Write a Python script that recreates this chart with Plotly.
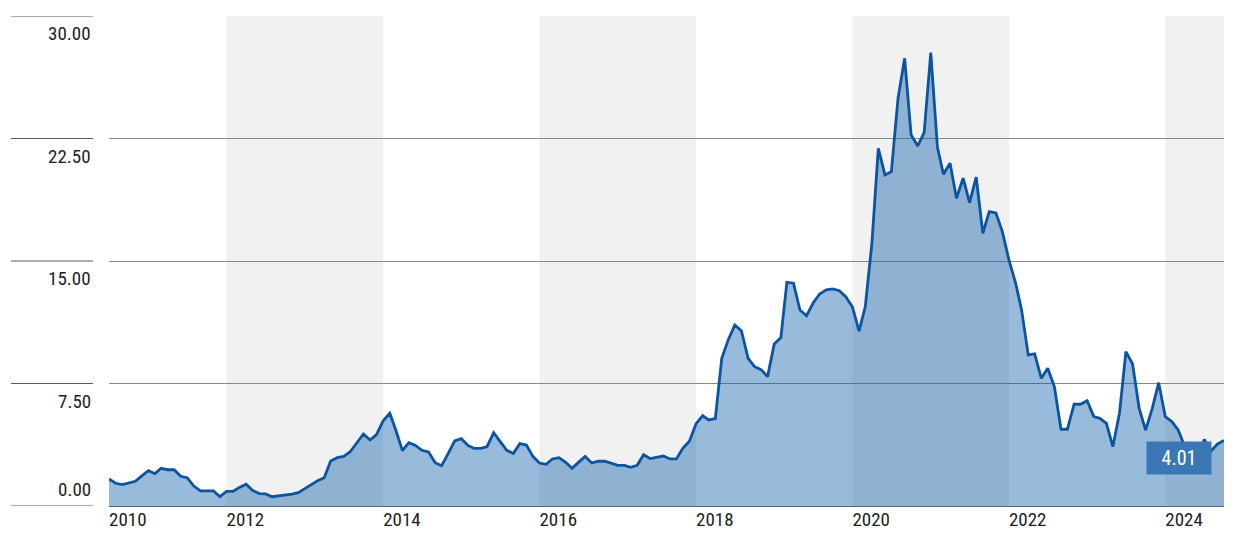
"""Monthly area chart with alternating two-year bands."""

import pandas as pd
import plotly.graph_objects as go

# monthly values, Jul 2010 .. Oct 2024
start_month = "2010-07-01"
values = [
    1.65, 1.39, 1.31, 1.41, 1.51, 1.84, 2.16, 1.98, 2.31, 2.22, 2.22, 1.82,
    1.73, 1.22, 0.92, 0.92, 0.92, 0.57, 0.90, 0.90, 1.14, 1.33, 0.96, 0.76,
    0.74, 0.57, 0.63, 0.65, 0.73, 0.82, 1.06, 1.31, 1.55, 1.73, 2.76, 2.96,
    3.04, 3.33, 3.92, 4.41, 4.04, 4.37, 5.22, 5.68, 4.65, 3.39, 3.88, 3.71,
    3.41, 3.31, 2.65, 2.47, 3.22, 3.98, 4.12, 3.71, 3.53, 3.53, 3.63, 4.49,
    3.96, 3.41, 3.22, 3.82, 3.73, 3.04, 2.63, 2.55, 2.88, 2.96, 2.69, 2.31,
    2.67, 3.04, 2.63, 2.74, 2.74, 2.63, 2.49, 2.49, 2.37, 2.49, 3.14, 2.90,
    2.98, 3.06, 2.88, 2.88, 3.55, 3.96, 5.04, 5.53, 5.27, 5.35, 9.04, 10.20,
    11.08, 10.72, 9.04, 8.53, 8.35, 7.92, 9.92, 10.31, 13.70, 13.64, 12.00, 11.65,
    12.41, 12.98, 13.23, 13.29, 13.18, 12.82, 12.20, 10.70, 12.20, 16.08, 21.90, 20.27,
    20.47, 24.96, 27.41, 22.72, 22.04, 22.86, 27.76, 21.96, 20.31, 20.99, 18.84, 20.07,
    18.57, 20.13, 16.70, 18.02, 17.94, 16.80, 15.06, 13.64, 12.00, 9.25, 9.31, 7.82,
    8.43, 7.31, 4.70, 4.70, 6.23, 6.23, 6.45, 5.47, 5.37, 5.06, 3.63, 5.68,
    9.45, 8.70, 5.98, 4.65, 5.98, 7.55, 5.47, 5.16, 4.65, 3.63, 3.73, 2.92,
    4.08, 3.37, 3.80, 4.01,
]
dates = pd.date_range(start_month, periods=len(values), freq="MS")

x_tick_dates = ["2010-07-01", "2012-01-01", "2014-01-01", "2016-01-01",
                "2018-01-01", "2020-01-01", "2022-01-01", "2024-01-01"]
x_tick_text = ["2010", "2012", "2014", "2016", "2018", "2020", "2022", "2024"]
y_ticks = [0, 7.5, 15, 22.5, 30]
y_tick_text = ["0.00", "7.50", "15.00", "22.50", "30.00"]
band_ranges = [("2012-01-01", "2014-01-01"), ("2016-01-01", "2018-01-01"),
               ("2020-01-01", "2022-01-01"), ("2024-01-01", "2024-10-01")]

FONT = "Roboto Condensed, Liberation Sans Narrow, Arial Narrow, Roboto, sans-serif"
PLOT_W = 1115  # plot area width in px, used for paper offsets

fig = go.Figure()
fig.add_trace(
    go.Scatter(
        x=dates,
        y=values,
        mode="lines",
        line=dict(color="#0b54a2", width=2.8),
        fill="tozeroy",
        fillcolor="rgba(0, 84, 166, 0.40)",
        hoverinfo="x+y",
        showlegend=False,
    )
)

for x0, x1 in band_ranges:
    fig.add_shape(type="rect", xref="x", yref="paper", x0=x0, x1=x1, y0=0, y1=1,
                  fillcolor="#f1f1f1", line_width=0, layer="below")

# gridline stubs in the label column, plus labels sitting under each line
for v, txt in zip(y_ticks, y_tick_text):
    fig.add_shape(type="line", xref="paper", yref="y",
                  x0=-98 / PLOT_W, x1=-16 / PLOT_W, y0=v, y1=v,
                  line=dict(color="#5a5a5a", width=1))
    fig.add_annotation(
        xref="paper", yref="y", x=-16 / PLOT_W, y=v, text=txt, showarrow=False,
        xanchor="right", yanchor="bottom" if v == 0 else "top",
        yshift=3 if v == 0 else -4,
        font=dict(family=FONT, size=19, color="#1e1e1e"),
    )

fig.add_annotation(
    x=dates[-1], y=values[-1], text=f"{values[-1]:.2f}", showarrow=False,
    xanchor="right", yanchor="top", xshift=-12,
    width=60, height=28, borderpad=2, bgcolor="#3c77b5",
    font=dict(family=FONT, size=20, color="white"),
)

fig.update_layout(
    width=1246,
    height=542,
    margin=dict(l=109, r=22, t=16, b=36),
    paper_bgcolor="white",
    plot_bgcolor="white",
    font=dict(family=FONT, size=19, color="#1e1e1e"),
    hovermode="x",
)
fig.update_xaxes(
    type="date",
    range=[dates[0], dates[-1]],
    tickvals=x_tick_dates,
    ticktext=x_tick_text,
    ticklabelposition="outside right",
    ticks="",
    showgrid=False,
    showline=False,
    zeroline=False,
)
fig.update_yaxes(
    range=[0, 30],
    tickvals=y_ticks,
    showticklabels=False,
    showgrid=True,
    gridcolor="#8a8a8a",
    gridwidth=1,
    zeroline=True,
    zerolinecolor="#666666",
    zerolinewidth=1,
    ticks="",
)

fig.write_html("out.html", config={"displayModeBar": False},
               post_script="document.body.style.margin='0';")
